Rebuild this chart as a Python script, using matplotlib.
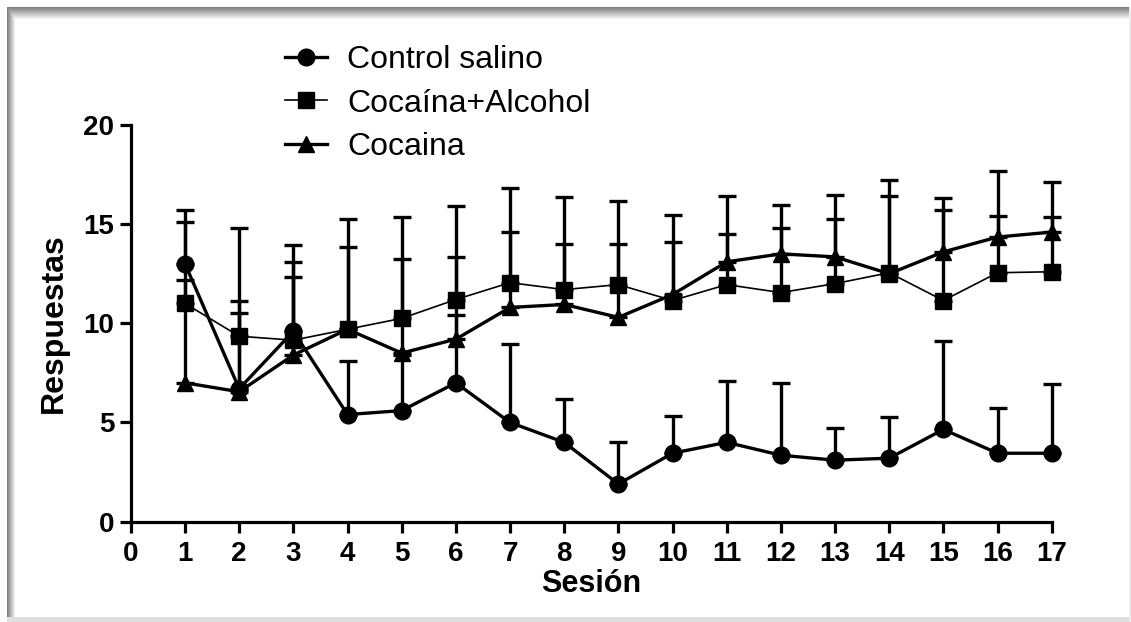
# -*- coding: utf-8 -*-
"""
Respuestas por sesion: control salino, cocaina+alcohol y cocaina (media + SEM)
"""
import numpy as np
from matplotlib import pyplot as plt

SESIONES = list(range(1, 18))

CONTROL_MEDIA = [13.0, 6.7, 9.6, 5.4, 5.6, 7.0, 5.0, 4.0, 1.9, 3.45,
                 4.0, 3.35, 3.1, 3.2, 4.65, 3.45, 3.45]
CONTROL_SEM = [2.7, 3.8, 2.75, 2.7, 2.8, 3.4, 3.95, 2.2, 2.1, 1.9,
               3.1, 3.65, 1.6, 2.1, 4.45, 2.3, 3.5]

COC_ALC_MEDIA = [11.0, 9.35, 9.15, 9.7, 10.25, 11.2, 12.05, 11.7, 11.95, 11.15,
                 11.95, 11.55, 12.0, 12.55, 11.15, 12.55, 12.6]
COC_ALC_SEM = [1.2, 5.45, 4.8, 5.55, 5.1, 4.7, 4.75, 4.65, 4.2, 4.3,
               2.55, 3.25, 3.25, 3.85, 4.55, 2.85, 2.75]

COCAINA_MEDIA = [7.0, 6.55, 8.4, 9.7, 8.5, 9.2, 10.8, 10.95, 10.3, 11.45,
                 13.1, 13.5, 13.35, 12.5, 13.6, 14.35, 14.6]
COCAINA_SEM = [8.1, 4.6, 4.7, 4.15, 4.75, 4.15, 3.8, 3.05, 3.7, 2.65,
               3.3, 2.45, 3.1, 4.75, 2.7, 3.35, 2.5]

ETIQUETAS = ["Control salino", "Cocaína+Alcohol", "Cocaina"]

W, H = 1131, 622


def __main__():
    plt.rcParams['font.family'] = ['Liberation Sans', 'DejaVu Sans']
    fig = plt.figure(figsize=(W / 100, H / 100), dpi=100)
    draw_frame(fig)

    axis = fig.add_axes([0.1157, 0.1613, 0.8142, 0.6378])
    axis.patch.set_alpha(0)
    handles = []
    handles.append(plot_series(axis, CONTROL_MEDIA, CONTROL_SEM, 'o', 2.4))
    handles.append(plot_series(axis, COC_ALC_MEDIA, COC_ALC_SEM, 's', 1.2))
    handles.append(plot_series(axis, COCAINA_MEDIA, COCAINA_SEM, '^', 2.4))

    axis.set_xlim(0, 17)
    axis.set_ylim(0, 20)
    axis.set_xticks(range(0, 18))
    axis.set_yticks(range(0, 21, 5))
    for side in ('top', 'right'):
        axis.spines[side].set_visible(False)
    for side in ('left', 'bottom'):
        axis.spines[side].set_linewidth(2.3)
    axis.tick_params(width=2.3, length=8, labelsize=20, pad=4)
    axis.tick_params(axis='x', pad=6)
    for label in axis.get_xticklabels() + axis.get_yticklabels():
        label.set_fontweight('bold')
    axis.set_xlabel("Sesión", fontsize=22, fontweight='bold', labelpad=1)
    axis.set_ylabel("Respuestas", fontsize=23, fontweight='bold', labelpad=10)

    fig.legend(handles, ETIQUETAS, loc='upper left',
               bbox_to_anchor=(0.252, 0.928), frameon=False, fontsize=23,
               handlelength=1.3, handletextpad=0.65, labelspacing=0.43,
               borderpad=0, borderaxespad=0)
    fig.savefig("out.png", dpi=100)


def plot_series(axis, media, sem, marker, width):
    """
    Draws one group with upper-only error bars and returns its data line.
    """
    media = np.array(media)
    sem = np.array(sem)
    cont = axis.errorbar(SESIONES, media, yerr=[np.zeros_like(sem), sem],
                         color='black', marker=marker, markersize=12,
                         linewidth=width, elinewidth=2.4, capsize=6.5,
                         capthick=2.4, clip_on=False)
    return cont[0]


def draw_frame(fig):
    """
    Paints the grey shadowed border around the picture.
    """
    img = np.ones((H, W, 3))
    for i in range(13):
        shade = 0.5 + 0.5 * i / 12
        img[7 + i, 7:1130] = np.minimum(img[7 + i, 7:1130], shade)
    for i in range(9):
        shade = 0.5 + 0.5 * i / 8
        img[7:617, 7 + i] = np.minimum(img[7:617, 7 + i], shade)
    img[617:, 7:] = 0.88
    img[7:, 1129:] = 0.93
    back = fig.add_axes([0, 0, 1, 1], zorder=-1)
    back.imshow(img, aspect='auto', interpolation='nearest')
    back.axis('off')


__main__()
